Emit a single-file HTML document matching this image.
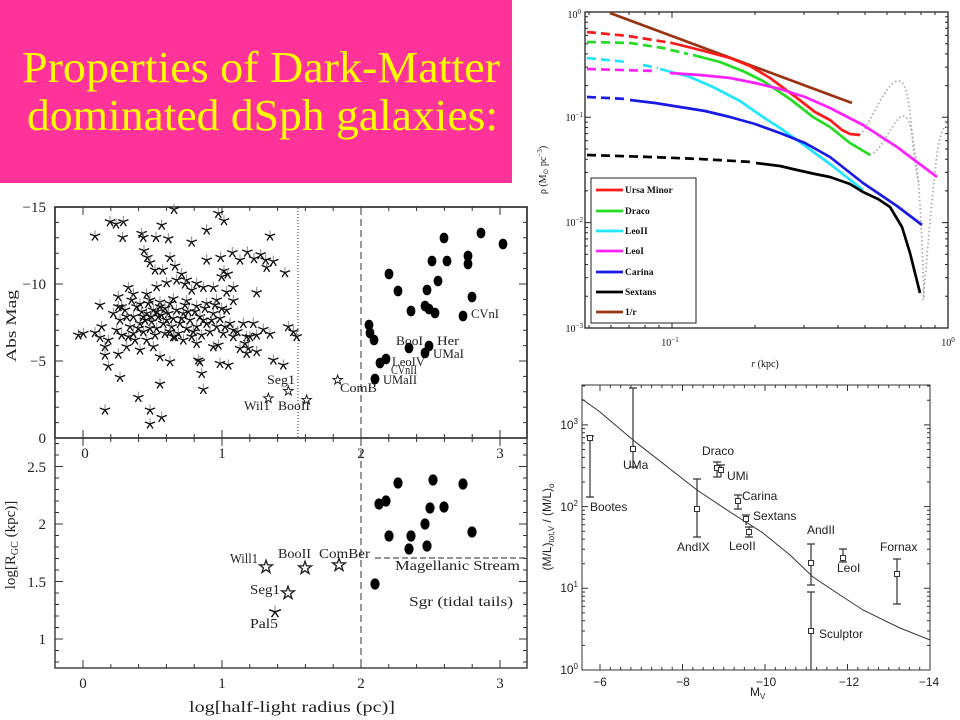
<!DOCTYPE html>
<html><head><meta charset="utf-8"><style>
html,body{margin:0;padding:0;background:#fff;}
svg{display:block;}
</style></head><body>
<svg width="960" height="720" viewBox="0 0 960 720" xmlns="http://www.w3.org/2000/svg">
<defs>
<g id="as"><path d="M0,0L0,-17" fill="none" stroke="#888" stroke-width="3"/><path d="M0,0L15.5,-6M0,0L9,13.5M0,0L-9,13.5M0,0L-15.5,-6" fill="none" stroke="#111" stroke-width="4"/></g>
<polygon id="st" points="0,-15 3.5,-4.9 14.3,-4.6 5.7,1.9 8.8,12.1 0,6 -8.8,12.1 -5.7,1.9 -14.3,-4.6 -3.5,-4.9" fill="#fff" stroke="#222" stroke-width="3"/>
<path id="xtL" fill="none" stroke="#333" stroke-width="1" d="M83,0v8M110.8,0v4M138.6,0v4M166.4,0v4M194.2,0v4M222,0v8M249.8,0v4M277.6,0v4M305.4,0v4M333.2,0v4M361,0v8M388.8,0v4M416.6,0v4M444.4,0v4M472.2,0v4M500,0v8"/>
<path id="ytU" fill="none" stroke="#333" stroke-width="1" d="M0,222.4h4M0,237.8h4M0,253.2h4M0,268.6h4M0,284h8M0,299.4h4M0,314.8h4M0,330.2h4M0,345.6h4M0,361h8M0,376.4h4M0,391.8h4M0,407.2h4M0,422.6h4"/>
<path id="ytL" fill="none" stroke="#333" stroke-width="1" d="M0,662h4M0,650.5h4M0,639h8M0,627.5h4M0,616h4M0,604.5h4M0,593h4M0,581.5h8M0,570h4M0,558.5h4M0,547h4M0,535.5h4M0,524h8M0,512.5h4M0,501h4M0,489.5h4M0,478h4M0,466.5h8M0,455h4M0,443.5h4"/>
<path id="xtR" fill="none" stroke="#222" stroke-width="1" d="M589,0v3M611,0v3M629,0v3M645,0v3M659,0v3M672,0v6M755,0v3M804,0v3M838,0v3M865,0v3M887,0v3M905,0v3M921,0v3M935,0v3"/>
<path id="ytR" fill="none" stroke="#222" stroke-width="1" d="M0,16.8h3M0,22.2h3M0,28.3h3M0,35.4h3M0,43.7h3M0,53.9h3M0,67.1h3M0,85.6h3M0,117.3h6M0,122.1h3M0,127.5h3M0,133.6h3M0,140.7h3M0,149h3M0,159.2h3M0,172.4h3M0,190.9h3M0,222.6h6M0,227.4h3M0,232.8h3M0,238.9h3M0,246h3M0,254.3h3M0,264.5h3M0,277.7h3M0,296.2h3"/>
<path id="xtB" fill="none" stroke="#333" stroke-width="1" d="M600,0v6M610.3,0v3M620.6,0v3M630.9,0v3M641.25,0v3M651.6,0v3M661.9,0v3M672.2,0v3M682.5,0v6M692.8,0v3M703.1,0v3M713.4,0v3M723.75,0v3M734.1,0v3M744.4,0v3M754.7,0v3M765,0v6M775.3,0v3M785.6,0v3M795.9,0v3M806.25,0v3M816.6,0v3M826.9,0v3M837.2,0v3M847.5,0v6M857.8,0v3M868.1,0v3M878.4,0v3M888.75,0v3M899.1,0v3M909.4,0v3M919.7,0v3"/>
<path id="ytB" fill="none" stroke="#333" stroke-width="1" d="M0,645.4h3M0,631h3M0,620.8h3M0,612.9h3M0,606.4h3M0,601h3M0,596.2h3M0,592h3M0,588.3h6M0,563.7h3M0,549.3h3M0,539.1h3M0,531.2h3M0,524.7h3M0,519.3h3M0,514.5h3M0,510.3h3M0,506.6h6M0,482h3M0,467.6h3M0,457.4h3M0,449.5h3M0,443h3M0,437.6h3M0,432.8h3M0,428.6h3M0,424.9h6M0,400.3h3M0,386h3"/>
</defs>

<!-- Title -->
<rect x="0" y="0" width="512" height="183" fill="#ff3399"/>
<text x="22" y="82" font-family="Liberation Serif, serif" font-size="44" fill="#ffff00" textLength="478" lengthAdjust="spacingAndGlyphs">Properties of Dark-Matter</text>
<text x="27" y="130" font-family="Liberation Serif, serif" font-size="44" fill="#ffff00" textLength="471" lengthAdjust="spacingAndGlyphs">dominated dSph galaxies:</text>

<!-- ============ LEFT CHART ============ -->
<g font-family="Liberation Serif, serif" fill="#222">
<rect x="55" y="207" width="472" height="231" fill="none" stroke="#222" stroke-width="1.6"/>
<rect x="55" y="438" width="472" height="230" fill="none" stroke="#444" stroke-width="1.5"/>
<use href="#xtL" transform="translate(0,207)"/>
<use href="#xtL" transform="translate(0,438) scale(1,-1)"/>
<use href="#xtL" transform="translate(0,438)"/>
<use href="#xtL" transform="translate(0,668) scale(1,-1)"/>
<use href="#ytU" transform="translate(55,0)"/>
<use href="#ytU" transform="translate(527,0) scale(-1,1)"/>
<use href="#ytL" transform="translate(55,0)"/>
<use href="#ytL" transform="translate(527,0) scale(-1,1)"/>
<line x1="298" y1="208" x2="298" y2="437" stroke="#333" stroke-width="1" stroke-dasharray="1 2"/>
<line x1="361" y1="208" x2="361" y2="667" stroke="#555" stroke-width="1.2" stroke-dasharray="7 4"/>
<line x1="375" y1="558" x2="527" y2="558" stroke="#555" stroke-width="1.2" stroke-dasharray="6 3"/>

<g font-size="15" text-anchor="end">
<text x="46" y="212">−15</text>
<text x="46" y="289">−10</text>
<text x="46" y="366">−5</text>
<text x="46" y="443">0</text>
</g>
<text transform="translate(16,326) rotate(-90)" font-size="15" text-anchor="middle" textLength="72" lengthAdjust="spacingAndGlyphs">Abs Mag</text>
<g font-size="15" text-anchor="middle">
<text x="85" y="458">0</text>
<text x="222" y="458">1</text>
<text x="361" y="458">2</text>
<text x="500" y="458">3</text>
</g>
<g font-size="15" text-anchor="end">
<text x="46" y="472">2.5</text>
<text x="46" y="529">2</text>
<text x="46" y="587">1.5</text>
<text x="46" y="644">1</text>
</g>
<text transform="translate(15,545) rotate(-90)" font-size="15" text-anchor="middle">log[R<tspan font-size="10" dy="3">GC</tspan><tspan dy="-3"> (kpc)]</tspan></text>
<g font-size="15" text-anchor="middle">
<text x="83" y="688">0</text>
<text x="222" y="688">1</text>
<text x="361" y="688">2</text>
<text x="500" y="688">3</text>
</g>
<text x="292" y="712" font-size="16" text-anchor="middle" textLength="206" lengthAdjust="spacingAndGlyphs">log[half-light radius (pc)]</text>

<g transform="translate(0,180) scale(0.33333)">
<use href="#as" x="330" y="125"/><use href="#as" x="348" y="132"/><use href="#as" x="370" y="125"/><use href="#as" x="285" y="168"/><use href="#as" x="368" y="172"/><use href="#as" x="425" y="160"/><use href="#as" x="430" y="172"/><use href="#as" x="468" y="172"/><use href="#as" x="485" y="135"/><use href="#as" x="505" y="176"/><use href="#as" x="522" y="88"/><use href="#as" x="575" y="186"/><use href="#as" x="620" y="150"/><use href="#as" x="655" y="100"/><use href="#as" x="672" y="122"/><use href="#as" x="810" y="168"/>
<use href="#as" x="432" y="212"/><use href="#as" x="442" y="232"/><use href="#as" x="450" y="248"/><use href="#as" x="465" y="270"/><use href="#as" x="488" y="270"/><use href="#as" x="510" y="232"/><use href="#as" x="525" y="258"/><use href="#as" x="545" y="282"/><use href="#as" x="620" y="240"/><use href="#as" x="662" y="232"/><use href="#as" x="672" y="272"/><use href="#as" x="697" y="218"/><use href="#as" x="720" y="240"/><use href="#as" x="742" y="216"/><use href="#as" x="762" y="236"/><use href="#as" x="782" y="224"/><use href="#as" x="797" y="240"/><use href="#as" x="800" y="262"/><use href="#as" x="820" y="244"/><use href="#as" x="855" y="278"/><use href="#as" x="770" y="338"/><use href="#as" x="665" y="290"/><use href="#as" x="683" y="282"/><use href="#as" x="560" y="300"/><use href="#as" x="590" y="310"/><use href="#as" x="610" y="322"/>
<use href="#as" x="300" y="375"/><use href="#as" x="355" y="350"/><use href="#as" x="385" y="322"/><use href="#as" x="400" y="342"/><use href="#as" x="440" y="342"/><use href="#as" x="470" y="320"/><use href="#as" x="500" y="308"/><use href="#as" x="530" y="300"/><use href="#as" x="555" y="312"/><use href="#as" x="575" y="330"/><use href="#as" x="640" y="322"/><use href="#as" x="680" y="336"/><use href="#as" x="700" y="322"/><use href="#as" x="700" y="362"/><use href="#as" x="650" y="360"/><use href="#as" x="620" y="370"/><use href="#as" x="590" y="378"/><use href="#as" x="560" y="362"/><use href="#as" x="520" y="356"/><use href="#as" x="480" y="366"/><use href="#as" x="450" y="360"/><use href="#as" x="420" y="372"/><use href="#as" x="395" y="360"/><use href="#as" x="365" y="380"/>
<use href="#as" x="340" y="400"/><use href="#as" x="360" y="420"/><use href="#as" x="375" y="390"/><use href="#as" x="390" y="440"/><use href="#as" x="400" y="410"/><use href="#as" x="410" y="380"/><use href="#as" x="420" y="430"/><use href="#as" x="430" y="455"/><use href="#as" x="440" y="400"/><use href="#as" x="445" y="370"/><use href="#as" x="455" y="425"/><use href="#as" x="460" y="390"/><use href="#as" x="470" y="445"/><use href="#as" x="475" y="410"/><use href="#as" x="480" y="380"/><use href="#as" x="490" y="430"/><use href="#as" x="495" y="460"/><use href="#as" x="505" y="400"/><use href="#as" x="510" y="370"/><use href="#as" x="515" y="440"/><use href="#as" x="520" y="415"/><use href="#as" x="530" y="390"/><use href="#as" x="535" y="460"/><use href="#as" x="540" y="430"/><use href="#as" x="550" y="400"/><use href="#as" x="555" y="375"/><use href="#as" x="560" y="445"/><use href="#as" x="570" y="420"/><use href="#as" x="575" y="470"/><use href="#as" x="585" y="395"/><use href="#as" x="590" y="440"/><use href="#as" x="600" y="410"/><use href="#as" x="605" y="465"/><use href="#as" x="615" y="385"/><use href="#as" x="620" y="430"/><use href="#as" x="630" y="455"/><use href="#as" x="640" y="400"/><use href="#as" x="645" y="375"/><use href="#as" x="650" y="440"/><use href="#as" x="660" y="415"/><use href="#as" x="670" y="460"/><use href="#as" x="680" y="390"/><use href="#as" x="690" y="430"/><use href="#as" x="700" y="450"/><use href="#as" x="350" y="450"/><use href="#as" x="365" y="465"/><use href="#as" x="385" y="470"/><use href="#as" x="405" y="480"/><use href="#as" x="425" y="395"/><use href="#as" x="435" y="420"/><use href="#as" x="450" y="445"/><use href="#as" x="465" y="465"/><use href="#as" x="485" y="405"/><use href="#as" x="500" y="420"/><use href="#as" x="525" y="470"/><use href="#as" x="545" y="415"/><use href="#as" x="565" y="395"/><use href="#as" x="580" y="455"/><use href="#as" x="610" y="420"/><use href="#as" x="635" y="420"/><use href="#as" x="665" y="385"/><use href="#as" x="675" y="440"/><use href="#as" x="440" y="480"/><use href="#as" x="400" y="460"/><use href="#as" x="380" y="410"/><use href="#as" x="355" y="380"/><use href="#as" x="455" y="410"/><use href="#as" x="470" y="395"/><use href="#as" x="430" y="410"/><use href="#as" x="415" y="445"/><use href="#as" x="495" y="385"/><use href="#as" x="510" y="455"/>
<use href="#as" x="235" y="465"/><use href="#as" x="250" y="460"/><use href="#as" x="285" y="458"/><use href="#as" x="305" y="440"/><use href="#as" x="300" y="472"/><use href="#as" x="315" y="500"/><use href="#as" x="325" y="480"/>
<use href="#as" x="730" y="430"/><use href="#as" x="760" y="430"/><use href="#as" x="740" y="470"/><use href="#as" x="770" y="465"/><use href="#as" x="790" y="448"/><use href="#as" x="810" y="462"/><use href="#as" x="865" y="440"/><use href="#as" x="880" y="455"/><use href="#as" x="890" y="470"/><use href="#as" x="735" y="490"/><use href="#as" x="745" y="505"/><use href="#as" x="740" y="520"/><use href="#as" x="750" y="470"/><use href="#as" x="712" y="455"/><use href="#as" x="700" y="470"/>
<use href="#as" x="315" y="525"/><use href="#as" x="325" y="558"/><use href="#as" x="355" y="522"/><use href="#as" x="380" y="500"/><use href="#as" x="420" y="510"/><use href="#as" x="460" y="500"/><use href="#as" x="510" y="545"/><use href="#as" x="480" y="530"/><use href="#as" x="600" y="545"/><use href="#as" x="655" y="495"/><use href="#as" x="660" y="550"/><use href="#as" x="685" y="555"/><use href="#as" x="720" y="505"/><use href="#as" x="770" y="515"/><use href="#as" x="820" y="540"/><use href="#as" x="850" y="555"/><use href="#as" x="640" y="500"/><use href="#as" x="590" y="490"/><use href="#as" x="550" y="480"/><use href="#as" x="520" y="470"/>
<use href="#as" x="360" y="592"/><use href="#as" x="415" y="652"/><use href="#as" x="450" y="690"/><use href="#as" x="450" y="732"/><use href="#as" x="480" y="612"/><use href="#as" x="485" y="712"/><use href="#as" x="605" y="580"/><use href="#as" x="610" y="628"/><use href="#as" x="315" y="690"/><use href="#as" x="595" y="540"/>
<use href="#st" x="865" y="633"/><use href="#st" x="805" y="655"/><use href="#st" x="920" y="660"/><use href="#st" x="1013" y="600"/>
</g>

<g fill="#000">
<ellipse cx="444" cy="238" rx="4.4" ry="5.4"/><ellipse cx="481" cy="233" rx="4.4" ry="5.4"/><ellipse cx="503" cy="244" rx="4.4" ry="5.4"/><ellipse cx="432" cy="261" rx="4.4" ry="5.4"/><ellipse cx="447" cy="261" rx="4.4" ry="5.4"/><ellipse cx="468" cy="256" rx="4.4" ry="5.4"/><ellipse cx="468" cy="264" rx="4.4" ry="5.4"/><ellipse cx="389" cy="274" rx="4.4" ry="5.4"/><ellipse cx="438" cy="281" rx="4.4" ry="5.4"/><ellipse cx="398" cy="291" rx="4.4" ry="5.4"/><ellipse cx="427" cy="290" rx="4.4" ry="5.4"/><ellipse cx="472" cy="297" rx="4.4" ry="5.4"/><ellipse cx="411" cy="311" rx="4.4" ry="5.4"/><ellipse cx="425" cy="306" rx="4.4" ry="5.4"/><ellipse cx="429" cy="309" rx="4.4" ry="5.4"/><ellipse cx="435" cy="313" rx="4.4" ry="5.4"/><ellipse cx="463" cy="316" rx="4.4" ry="5.4"/><ellipse cx="369" cy="325" rx="4.4" ry="5.4"/><ellipse cx="370" cy="333" rx="4.4" ry="5.4"/><ellipse cx="374" cy="340" rx="4.4" ry="5.4"/><ellipse cx="409" cy="348" rx="4.4" ry="5.4"/><ellipse cx="425" cy="353" rx="4.4" ry="5.4"/><ellipse cx="429" cy="346" rx="4.4" ry="5.4"/><ellipse cx="386" cy="359" rx="4.4" ry="5.4"/><ellipse cx="380" cy="363" rx="4.4" ry="5.4"/><ellipse cx="375" cy="379" rx="4.4" ry="5.4"/>
</g>
<g font-size="13">
<text x="267" y="384" textLength="28" lengthAdjust="spacingAndGlyphs">Seg1</text>
<text x="244" y="410" textLength="26" lengthAdjust="spacingAndGlyphs">Wil1</text>
<text x="278" y="410" textLength="32" lengthAdjust="spacingAndGlyphs">BooII</text>
<text x="340" y="392" textLength="37" lengthAdjust="spacingAndGlyphs">ComB</text>
<text x="383" y="384" textLength="34" lengthAdjust="spacingAndGlyphs">UMaII</text>
<text x="391" y="374" textLength="26" lengthAdjust="spacingAndGlyphs">CVnII</text>
<text x="392" y="366" textLength="33" lengthAdjust="spacingAndGlyphs">LeoIV</text>
<text x="396" y="345" textLength="27" lengthAdjust="spacingAndGlyphs">BooI</text>
<text x="437" y="345" textLength="22" lengthAdjust="spacingAndGlyphs">Her</text>
<text x="433" y="358" textLength="31" lengthAdjust="spacingAndGlyphs">UMaI</text>
<text x="471" y="318" textLength="28" lengthAdjust="spacingAndGlyphs">CVnI</text>
</g>

<g fill="#000">
<ellipse cx="398" cy="483" rx="4.6" ry="5.6"/><ellipse cx="433" cy="480" rx="4.6" ry="5.6"/><ellipse cx="463" cy="484" rx="4.6" ry="5.6"/><ellipse cx="379" cy="504" rx="4.6" ry="5.6"/><ellipse cx="386" cy="501" rx="4.6" ry="5.6"/><ellipse cx="430" cy="508" rx="4.6" ry="5.6"/><ellipse cx="444" cy="507" rx="4.6" ry="5.6"/><ellipse cx="425" cy="524" rx="4.6" ry="5.6"/><ellipse cx="389" cy="536" rx="4.6" ry="5.6"/><ellipse cx="411" cy="536" rx="4.6" ry="5.6"/><ellipse cx="472" cy="532" rx="4.6" ry="5.6"/><ellipse cx="409" cy="549" rx="4.6" ry="5.6"/><ellipse cx="427" cy="546" rx="4.6" ry="5.6"/><ellipse cx="375" cy="584" rx="4.6" ry="5.6"/>
</g>
<use href="#st" transform="translate(266,567) scale(0.45)"/>
<use href="#st" transform="translate(305,568) scale(0.45)"/>
<use href="#st" transform="translate(339,565) scale(0.45)"/>
<use href="#st" transform="translate(288,593) scale(0.45)"/>
<use href="#as" transform="translate(275,612) scale(0.38)"/>
<g font-size="14">
<text x="230" y="563" textLength="28" lengthAdjust="spacingAndGlyphs">Will1</text>
<text x="278" y="558" textLength="33" lengthAdjust="spacingAndGlyphs">BooII</text>
<text x="319" y="558" textLength="51" lengthAdjust="spacingAndGlyphs">ComBer</text>
<text x="250" y="594" textLength="30" lengthAdjust="spacingAndGlyphs">Seg1</text>
<text x="250" y="628" textLength="28" lengthAdjust="spacingAndGlyphs">Pal5</text>
<text x="395" y="570" textLength="125" lengthAdjust="spacingAndGlyphs">Magellanic Stream</text>
<text x="409" y="606" textLength="104" lengthAdjust="spacingAndGlyphs">Sgr (tidal tails)</text>
</g>
</g>

<!-- ============ TOP-RIGHT CHART ============ -->
<g font-family="Liberation Serif, serif">
<rect x="585" y="12" width="363" height="316" fill="none" stroke="#222" stroke-width="1.3"/>
<use href="#xtR" transform="translate(0,12)"/>
<use href="#xtR" transform="translate(0,328) scale(1,-1)"/>
<use href="#ytR" transform="translate(585,0)"/>
<use href="#ytR" transform="translate(948,0) scale(-1,1)"/>
<g fill="none" stroke="#aaa" stroke-width="1.7" stroke-dasharray="1.5 2.5">
<path d="M860,135 C872,122 886,80 899,81 C908,82 910,110 913,145 C915,165 917,175 919,185"/>
<path d="M870,155 C884,150 894,115 904,116 C911,118 913,140 916,160 C919,180 922,230 924,300"/>
<path d="M923,300 C927,260 932,190 938,147 C941,132 944,124 948,128"/>
</g>
<g fill="none" stroke-width="2.7" stroke-linejoin="round">
<path d="M610,13 L852,103" stroke="#993311"/>
<path d="M587,32 L628,36 L672,43" stroke="#ff1a1a" stroke-dasharray="9 5"/>
<path d="M672,43 L700,50 L730,58 L750,66 L770,78 L797,98 L815,112 L830,120 L842,130 L850,134 L860,135" stroke="#ff1a1a"/>
<path d="M587,42 L630,43 L663,48 L688,54" stroke="#22dd22" stroke-dasharray="9 5"/>
<path d="M693,55 L720,62 L745,72 L763,81 L790,99 L813,117 L830,127 L850,143 L870,155" stroke="#22dd22"/>
<path d="M587,58 L627,62 M643,65 L658,68" stroke="#22e5ff" stroke-dasharray="9 5"/>
<path d="M660,69 L690,77 L713,87 L740,101 L763,117 L780,128 L797,140 L830,164 L863,190" stroke="#22e5ff"/>
<path d="M587,69 L655,71" stroke="#ff22ff" stroke-dasharray="9 5"/>
<path d="M670,73 L700,75 L730,78 L755,83 L780,89 L805,97 L830,108 L863,125 L897,147 L937,177" stroke="#ff22ff"/>
<path d="M587,97 L627,99" stroke="#1a1ae6" stroke-dasharray="9 5"/>
<path d="M630,100 L655,103 L680,107 L705,111 L730,117 L755,124 L780,133 L805,143 L830,157 L863,183 L897,206 L922,225" stroke="#1a1ae6"/>
<path d="M587,155 L650,157 L700,159 L752,162" stroke="#000" stroke-dasharray="9 5"/>
<path d="M756,163 L780,166 L797,170 L815,174 L830,177 L850,184 L863,192 L878,199 L890,207 L902,227 L910,253 L916,277 L920,293" stroke="#000"/>
</g>
<rect x="591" y="178" width="105" height="145" fill="#fff" stroke="#222" stroke-width="1"/>
<g stroke-width="2.7">
<line x1="596" y1="190" x2="623" y2="190" stroke="#ff1a1a"/>
<line x1="596" y1="211" x2="623" y2="211" stroke="#22dd22"/>
<line x1="596" y1="231" x2="623" y2="231" stroke="#22e5ff"/>
<line x1="596" y1="251" x2="623" y2="251" stroke="#ff22ff"/>
<line x1="596" y1="272" x2="623" y2="272" stroke="#1a1ae6"/>
<line x1="596" y1="292" x2="623" y2="292" stroke="#000"/>
<line x1="596" y1="312" x2="623" y2="312" stroke="#993311"/>
</g>
<g font-size="9.5" font-weight="bold" fill="#111">
<text x="625" y="193">Ursa Minor</text>
<text x="625" y="214">Draco</text>
<text x="625" y="234">LeoII</text>
<text x="625" y="254">LeoI</text>
<text x="625" y="275">Carina</text>
<text x="625" y="295">Sextans</text>
<text x="625" y="315">1/r</text>
</g>
<g font-size="10" fill="#111" text-anchor="end">
<text x="581" y="18">10<tspan font-size="7" dy="-4">0</tspan></text>
<text x="583" y="121">10<tspan font-size="7" dy="-4">−1</tspan></text>
<text x="583" y="226">10<tspan font-size="7" dy="-4">−2</tspan></text>
<text x="583" y="332">10<tspan font-size="7" dy="-4">−3</tspan></text>
</g>
<g font-size="10" fill="#111" text-anchor="middle">
<text x="670" y="346">10<tspan font-size="7" dy="-4">−1</tspan></text>
<text x="948" y="346">10<tspan font-size="7" dy="-4">0</tspan></text>
<text x="765" y="367" font-style="italic">r <tspan font-style="normal">(kpc)</tspan></text>
</g>
<text transform="translate(546,170) rotate(-90)" font-size="10" fill="#111" text-anchor="middle">ρ (M<tspan font-size="7" dy="2">⊙</tspan><tspan dy="-2"> pc</tspan><tspan font-size="7" dy="-4">−3</tspan><tspan dy="4">)</tspan></text>
</g>

<!-- ============ BOTTOM-RIGHT CHART ============ -->
<g font-family="Liberation Sans, sans-serif" fill="#222">
<rect x="582" y="385" width="348" height="285" fill="none" stroke="#333" stroke-width="1"/>
<use href="#xtB" transform="translate(0,385)"/>
<use href="#xtB" transform="translate(0,670) scale(1,-1)"/>
<use href="#ytB" transform="translate(582,0)"/>
<use href="#ytB" transform="translate(930,0) scale(-1,1)"/>
<path d="M582,399 L600,412 L633,440 L665,465 L697,490 L730,512 L763,533 L790,555 L813,577 L840,595 L863,610 L900,628 L930,640" fill="none" stroke="#333" stroke-width="1"/>
<g stroke="#333" stroke-width="1.2" fill="none">
<path d="M590,436V497M586,436h8M586,497h8"/>
<path d="M633,388V467M629,388h8M629,467h8"/>
<path d="M697,479V537M693,479h8M693,537h8"/>
<path d="M717,462V477M713,462h8M713,477h8"/>
<path d="M721,465V477M717,465h8"/>
<path d="M738,495V509M734,495h8M734,509h8"/>
<path d="M746,515V525M742,515h8"/>
<path d="M749,527V537M745,527h8M745,537h8"/>
<path d="M811,544V585M807,544h8M807,585h8"/>
<path d="M811,592V670M807,592h8"/>
<path d="M843,549V562M839,549h8M839,562h8"/>
<path d="M897,559V604M893,559h8M893,604h8"/>
</g>
<g fill="#fff" stroke="#333" stroke-width="1">
<rect x="587.5" y="435.5" width="5" height="5"/>
<rect x="630.5" y="446.5" width="5" height="5"/>
<rect x="694.5" y="506.5" width="5" height="5"/>
<rect x="714.5" y="465.5" width="5" height="5"/>
<rect x="718.5" y="467.5" width="5" height="5"/>
<rect x="735.5" y="498.5" width="5" height="5"/>
<rect x="743.5" y="516.5" width="5" height="5"/>
<rect x="746.5" y="529.5" width="5" height="5"/>
<rect x="808.5" y="560.5" width="5" height="5"/>
<rect x="808.5" y="628.5" width="5" height="5"/>
<rect x="840.5" y="555.5" width="5" height="5"/>
<rect x="894.5" y="571.5" width="5" height="5"/>
</g>
<g font-size="12">
<text x="590" y="511">Bootes</text>
<text x="623" y="469">UMa</text>
<text x="702" y="455">Draco</text>
<text x="727" y="480">UMi</text>
<text x="742" y="500">Carina</text>
<text x="753" y="520">Sextans</text>
<text x="677" y="551">AndIX</text>
<text x="729" y="550">LeoII</text>
<text x="807" y="534">AndII</text>
<text x="880" y="551">Fornax</text>
<text x="837" y="572">LeoI</text>
<text x="819" y="638">Sculptor</text>
</g>
<g font-size="12" text-anchor="middle">
<text x="600" y="686">−6</text>
<text x="683" y="686">−8</text>
<text x="766" y="686">−10</text>
<text x="849" y="686">−12</text>
<text x="929" y="686">−14</text>
</g>
<g font-size="12" text-anchor="end">
<text x="578" y="429">10<tspan font-size="8" dy="-5">3</tspan></text>
<text x="578" y="511">10<tspan font-size="8" dy="-5">2</tspan></text>
<text x="578" y="592">10<tspan font-size="8" dy="-5">1</tspan></text>
<text x="578" y="674">10<tspan font-size="8" dy="-5">0</tspan></text>
</g>
<text x="750" y="696" font-size="12">M<tspan font-size="8" dy="3">V</tspan></text>
<text transform="translate(551,527) rotate(-90)" font-size="12" text-anchor="middle">(M/L)<tspan font-size="8" dy="3">tot,V</tspan><tspan dy="-3">  /  (M/L)</tspan><tspan font-size="8" dy="3">o</tspan></text>
</g>
</svg>
</body></html>
